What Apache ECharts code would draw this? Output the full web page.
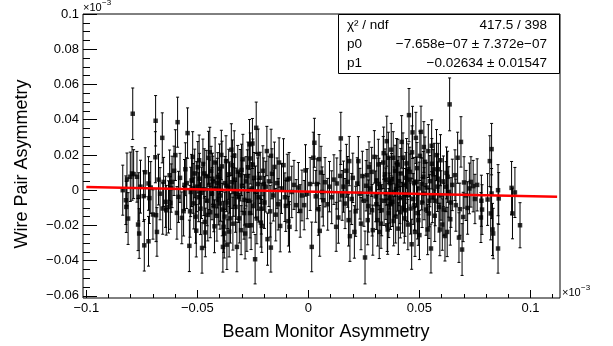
<!DOCTYPE html>
<html>
<head>
<meta charset="utf-8">
<script src="https://cdn.jsdelivr.net/npm/echarts@6.0.0/dist/echarts.min.js"></script>
<style>
  html, body { margin: 0; padding: 0; background: #fff; }
  #chart { width: 613px; height: 346px; }
</style>
</head>
<body>
<div id="chart"></div>
<script>
// beam monitor asymmetry (x10^-3)
const beamX = [
  -0.0836, -0.0820, -0.0817, -0.0822, -0.0812, -0.0802, -0.0794, -0.0791, -0.0787, -0.0772,
  -0.0767, -0.0762, -0.0764, -0.0756, -0.0742, -0.0739, -0.0735, -0.0720, -0.0720, -0.0716,
  -0.0710, -0.0700, -0.0689, -0.0688, -0.0686, -0.0682, -0.0675, -0.0668, -0.0658, -0.0656,
  -0.0652, -0.0643, -0.0640, -0.0630, -0.0625, -0.0622, -0.0618, -0.0614, -0.0605, -0.0599,
  -0.0592, -0.0589, -0.0585, -0.0578, -0.0570, -0.0562, -0.0558, -0.0554, -0.0544, -0.0536,
  -0.0530, -0.0526, -0.0521, -0.0516, -0.0512, -0.0508, -0.0503, -0.0498, -0.0494, -0.0490,
  -0.0486, -0.0479, -0.0475, -0.0471, -0.0467, -0.0464, -0.0460, -0.0456, -0.0450, -0.0446,
  -0.0442, -0.0438, -0.0434, -0.0430, -0.0426, -0.0420, -0.0416, -0.0412, -0.0408, -0.0404,
  -0.0400, -0.0396, -0.0392, -0.0388, -0.0385, -0.0382, -0.0379, -0.0375, -0.0371, -0.0367,
  -0.0363, -0.0359, -0.0355, -0.0351, -0.0347, -0.0342, -0.0340, -0.0336, -0.0332, -0.0328,
  -0.0322, -0.0318, -0.0314, -0.0307, -0.0303, -0.0299, -0.0295, -0.0290, -0.0285, -0.0281,
  -0.0277, -0.0272, -0.0268, -0.0265, -0.0262, -0.0258, -0.0255, -0.0252, -0.0248, -0.0244,
  -0.0240, -0.0235, -0.0232, -0.0228, -0.0224, -0.0217, -0.0214, -0.0210, -0.0205, -0.0198,
  -0.0192, -0.0187, -0.0184, -0.0178, -0.0172, -0.0169, -0.0168, -0.0164, -0.0158, -0.0153,
  -0.0147, -0.0141, -0.0136, -0.0132, -0.0127, -0.0121, -0.0112, -0.0106, -0.0102, -0.0095,
  -0.0090, -0.0087, -0.0085, -0.0075, -0.0065, -0.0055, -0.0045, -0.0037, -0.0029, -0.0019,
  -0.0013, -0.0005, 0.0008, 0.0015, 0.0022, 0.0027, 0.0033, 0.0038, 0.0045, 0.0048,
  0.0051, 0.0057, 0.0062, 0.0067, 0.0075, 0.0087, 0.0095, 0.0105, 0.0115, 0.0128,
  0.0125, 0.0135, 0.0143, 0.0146, 0.0152, 0.0158, 0.0165, 0.0171, 0.0177, 0.0184,
  0.0181, 0.0187, 0.0195, 0.0200, 0.0207, 0.0213, 0.0220, 0.0225, 0.0232, 0.0237,
  0.0243, 0.0250, 0.0255, 0.0260, 0.0264, 0.0267, 0.0270, 0.0273, 0.0278, 0.0285,
  0.0287, 0.0290, 0.0297, 0.0303, 0.0308, 0.0312, 0.0315, 0.0319, 0.0324, 0.0330,
  0.0337, 0.0341, 0.0345, 0.0349, 0.0353, 0.0355, 0.0357, 0.0360, 0.0362, 0.0366,
  0.0370, 0.0375, 0.0378, 0.0382, 0.0386, 0.0390, 0.0393, 0.0397, 0.0401, 0.0405,
  0.0408, 0.0412, 0.0416, 0.0420, 0.0424, 0.0428, 0.0432, 0.0435, 0.0439, 0.0442,
  0.0446, 0.0450, 0.0453, 0.0457, 0.0460, 0.0465, 0.0469, 0.0472, 0.0476, 0.0480,
  0.0484, 0.0487, 0.0491, 0.0495, 0.0498, 0.0502, 0.0507, 0.0512, 0.0517, 0.0521,
  0.0525, 0.0530, 0.0537, 0.0540, 0.0543, 0.0547, 0.0552, 0.0555, 0.0558, 0.0562,
  0.0567, 0.0571, 0.0577, 0.0581, 0.0585, 0.0588, 0.0592, 0.0597, 0.0603, 0.0608,
  0.0615, 0.0622, 0.0625, 0.0627, 0.0632, 0.0636, 0.0642, 0.0648, 0.0660, 0.0664,
  0.0672, 0.0678, 0.0682, 0.0687, 0.0692, 0.0697, 0.0701, 0.0710, 0.0717, 0.0725,
  0.0732, 0.0742, 0.0750, 0.0760, 0.0777, 0.0779, 0.0782, 0.0807, 0.0817, 0.0821,
  0.0825, 0.0825, 0.0829, 0.0832, 0.0854, 0.0854, 0.0857, 0.0915, 0.0919, 0.0930,
  0.0953,
  -0.0548, -0.0533, -0.0519, -0.0505, -0.0492, -0.0481, -0.0469, -0.0453, -0.0444, -0.0432,
  -0.0423, -0.0410, -0.0398, -0.0389, -0.0377, -0.0369, -0.0357, -0.0344, -0.0334, -0.0325,
  -0.0311, -0.0301, -0.0288, -0.0275, -0.0263, -0.0250, -0.0238, -0.0226, -0.0212, -0.0201,
  0.0306, 0.0318, 0.0327, 0.0339, 0.0351, 0.0364, 0.0373, 0.0384, 0.0395, 0.0403,
  0.0414, 0.0426, 0.0437, 0.0448, 0.0458, 0.0467, 0.0478, 0.0489, 0.0500, 0.0510,
  0.0520, 0.0533, 0.0545, 0.0556, 0.0569, 0.0583, 0.0595, 0.0610, 0.0620, 0.0639
];

// wire pair asymmetry (x10^-3)
const wireY = [
  0.0000, -0.0095, 0.0061, -0.0057, -0.0161, 0.0076, 0.0095, 0.0434, 0.0091, 0.0076,
  -0.0195, -0.0246, -0.0038, 0.0020, -0.0034, -0.0313, 0.0102, 0.0038, -0.0290, -0.0045,
  0.0015, -0.0138, 0.0187, 0.0394, -0.0142, -0.0237, 0.0060, -0.0020, 0.0297, -0.0104,
  0.0047, -0.0066, -0.0114, -0.0095, 0.0085, -0.0072, 0.0012, 0.0047, 0.0110, 0.0199,
  -0.0129, 0.0386, -0.0038, 0.0070, -0.0157, -0.0119, 0.0030, 0.0119, 0.0324, -0.0316,
  -0.0010, 0.0055, 0.0189, -0.0075, 0.0095, -0.0150, 0.0020, 0.0130, -0.0040, 0.0065,
  -0.0105, -0.0328, 0.0149, 0.0005, -0.0180, -0.0240, 0.0080, -0.0060, 0.0184, 0.0030,
  -0.0125, 0.0110, -0.0020, 0.0050, -0.0090, 0.0157, 0.0010, -0.0145, 0.0075, -0.0050,
  0.0120, -0.0030, 0.0200, -0.0110, -0.0322, -0.0208, -0.0246, 0.0040, 0.0165, -0.0309,
  -0.0070, 0.0090, 0.0015, -0.0160, 0.0230, 0.0142, -0.0190, -0.0010, 0.0060, -0.0095,
  -0.0322, 0.0105, -0.0040, 0.0085, -0.0227, 0.0025, 0.0175, -0.0130, -0.0246, 0.0050,
  -0.0200, 0.0130, -0.0060, 0.0260, 0.0180, -0.0199, 0.0010, 0.0265, -0.0090, 0.0070,
  -0.0392, 0.0354, -0.0161, 0.0035, -0.0040, 0.0070, -0.0184, -0.0203, 0.0110, -0.0070,
  0.0020, 0.0222, -0.0278, 0.0050, -0.0120, -0.0326, 0.0195, 0.0093, -0.0030, 0.0132,
  -0.0139, 0.0040, -0.0080, 0.0157, -0.0203, 0.0010, 0.0142, -0.0040, -0.0089, 0.0060,
  -0.0176, 0.0066, -0.0208, -0.0010, 0.0030, -0.0085, 0.0015, -0.0118, -0.0030, -0.0085,
  0.0112, -0.0020, 0.0035, -0.0322, 0.0184, 0.0269, -0.0035, 0.0035, -0.0108, 0.0176,
  -0.0231, 0.0100, -0.0010, -0.0057, 0.0045, -0.0080, 0.0020, -0.0040, 0.0060, 0.0038,
  -0.0208, -0.0155, 0.0081, 0.0294, -0.0030, 0.0020, -0.0076, 0.0110, 0.0047, 0.0165,
  -0.0170, -0.0261, -0.0050, 0.0070, -0.0237, -0.0120, 0.0038, 0.0165, -0.0020, -0.0190,
  0.0080, -0.0060, -0.0382, 0.0025, 0.0085, -0.0170, -0.0090, 0.0132, 0.0010, 0.0104,
  -0.0114, -0.0227, 0.0189, -0.0035, 0.0055, -0.0170, 0.0146, -0.0237, 0.0015, -0.0114,
  0.0157, -0.0060, 0.0090, -0.0020, 0.0278, -0.0199, -0.0223, 0.0184, -0.0130, 0.0040,
  -0.0080, 0.0062, -0.0066, 0.0184, -0.0010, 0.0110, -0.0150, 0.0152, 0.0025, -0.0218,
  0.0051, -0.0045, 0.0095, 0.0274, -0.0100, 0.0030, -0.0160, -0.0114, 0.0070, 0.0152,
  -0.0030, 0.0120, 0.0426, 0.0104, -0.0104, -0.0307, 0.0328, -0.0050, 0.0040, -0.0237,
  0.0297, 0.0047, -0.0130, -0.0170, 0.0010, 0.0195, 0.0331, -0.0070, 0.0076, -0.0020,
  0.0161, -0.0110, -0.0223, 0.0222, -0.0132, 0.0051, -0.0331, 0.0252, -0.0040, 0.0090,
  0.0118, -0.0060, 0.0199, 0.0020, 0.0119, -0.0095, -0.0223, -0.0030, -0.0195, 0.0050,
  -0.0260, 0.0098, -0.0237, 0.0076, -0.0010, 0.0487, -0.0070, 0.0030, 0.0085, -0.0085,
  0.0184, -0.0269, -0.0108, 0.0274, -0.0337, -0.0152, 0.0044, -0.0030, -0.0101, 0.0010,
  0.0047, 0.0023, -0.0050, 0.0030, -0.0155, -0.0060, -0.0110, -0.0053, 0.0165, -0.0132,
  0.0233, -0.0019, -0.0223, -0.0246, 0.0000, -0.0331, -0.0047, 0.0013, -0.0132, -0.0013,
  -0.0199,
  0.0040, -0.0120, 0.0010, -0.0230, 0.0170, -0.0015, 0.0095, -0.0140, 0.0215, 0.0065,
  -0.0205, 0.0040, -0.0075, 0.0135, -0.0150, 0.0025, -0.0235, 0.0045, 0.0195, -0.0020,
  -0.0160, 0.0115, -0.0055, 0.0080, -0.0130, 0.0145, -0.0010, 0.0205, -0.0105, 0.0035,
  -0.0080, 0.0035, -0.0190, 0.0210, 0.0060, -0.0045, 0.0230, -0.0175, 0.0005, 0.0145,
  -0.0125, 0.0185, -0.0025, -0.0195, 0.0060, 0.0215, -0.0085, 0.0125, -0.0255, 0.0035,
  0.0245, 0.0015, -0.0060, 0.0150, -0.0145, 0.0065, 0.0170, -0.0110, 0.0020, -0.0165
];

// y error per point
const wireErr = [
  0.0142, 0.0145, 0.0150, 0.0138, 0.0147, 0.0140, 0.0152, 0.0146, 0.0139, 0.0144,
  0.0148, 0.0141, 0.0137, 0.0150, 0.0143, 0.0146, 0.0139, 0.0152, 0.0141, 0.0144,
  0.0147, 0.0140, 0.0145, 0.0143, 0.0150, 0.0138, 0.0144, 0.0148, 0.0142, 0.0146,
  0.0139, 0.0145, 0.0141, 0.0148, 0.0143, 0.0150, 0.0137, 0.0146, 0.0140, 0.0144,
  0.0149, 0.0142, 0.0145, 0.0139, 0.0147, 0.0141, 0.0144, 0.0150, 0.0143, 0.0146,
  0.0140, 0.0148, 0.0143, 0.0145, 0.0138, 0.0151, 0.0142, 0.0146, 0.0139, 0.0144,
  0.0147, 0.0143, 0.0141, 0.0149, 0.0144, 0.0138, 0.0146, 0.0142, 0.0150, 0.0140,
  0.0145, 0.0139, 0.0148, 0.0143, 0.0146, 0.0141, 0.0150, 0.0144, 0.0138, 0.0147,
  0.0142, 0.0146, 0.0140, 0.0149, 0.0143, 0.0145, 0.0139, 0.0151, 0.0144, 0.0141,
  0.0148, 0.0142, 0.0145, 0.0140, 0.0147, 0.0143, 0.0150, 0.0138, 0.0146, 0.0144,
  0.0141, 0.0149, 0.0143, 0.0146, 0.0139, 0.0145, 0.0142, 0.0148, 0.0144, 0.0140,
  0.0147, 0.0143, 0.0150, 0.0141, 0.0145, 0.0138, 0.0146, 0.0142, 0.0149, 0.0144,
  0.0140, 0.0146, 0.0143, 0.0148, 0.0141, 0.0145, 0.0139, 0.0150, 0.0142, 0.0147,
  0.0144, 0.0140, 0.0148, 0.0143, 0.0146, 0.0139, 0.0151, 0.0142, 0.0145, 0.0141,
  0.0149, 0.0143, 0.0146, 0.0140, 0.0147, 0.0142, 0.0150, 0.0138, 0.0145, 0.0144,
  0.0141, 0.0148, 0.0143, 0.0146, 0.0139, 0.0145, 0.0142, 0.0149, 0.0144, 0.0140,
  0.0146, 0.0142, 0.0150, 0.0141, 0.0145, 0.0139, 0.0147, 0.0143, 0.0148, 0.0140,
  0.0144, 0.0149, 0.0142, 0.0146, 0.0140, 0.0147, 0.0143, 0.0150, 0.0141, 0.0145,
  0.0139, 0.0146, 0.0143, 0.0148, 0.0141, 0.0145, 0.0142, 0.0150, 0.0144, 0.0140,
  0.0147, 0.0143, 0.0145, 0.0140, 0.0149, 0.0142, 0.0146, 0.0139, 0.0144, 0.0148,
  0.0141, 0.0145, 0.0150, 0.0143, 0.0146, 0.0140, 0.0148, 0.0142, 0.0145, 0.0139,
  0.0146, 0.0142, 0.0149, 0.0144, 0.0140, 0.0147, 0.0143, 0.0151, 0.0141, 0.0145,
  0.0148, 0.0140, 0.0144, 0.0146, 0.0142, 0.0149, 0.0141, 0.0145, 0.0139, 0.0147,
  0.0143, 0.0146, 0.0140, 0.0148, 0.0142, 0.0145, 0.0150, 0.0141, 0.0144, 0.0147,
  0.0139, 0.0145, 0.0142, 0.0149, 0.0143, 0.0146, 0.0140, 0.0148, 0.0144, 0.0141,
  0.0147, 0.0143, 0.0151, 0.0140, 0.0145, 0.0142, 0.0148, 0.0144, 0.0146, 0.0139,
  0.0145, 0.0141, 0.0147, 0.0143, 0.0149, 0.0140, 0.0146, 0.0142, 0.0144, 0.0148,
  0.0141, 0.0146, 0.0143, 0.0150, 0.0142, 0.0145, 0.0139, 0.0147, 0.0144, 0.0140,
  0.0148, 0.0142, 0.0145, 0.0141, 0.0147, 0.0143, 0.0149, 0.0140, 0.0146, 0.0144,
  0.0142, 0.0147, 0.0140, 0.0145, 0.0143, 0.0150, 0.0141, 0.0146, 0.0144, 0.0148,
  0.0145, 0.0141, 0.0148, 0.0143, 0.0147, 0.0140, 0.0146, 0.0142, 0.0149, 0.0144,
  0.0143, 0.0146, 0.0140, 0.0148, 0.0142, 0.0145, 0.0141, 0.0147, 0.0144, 0.0150,
  0.0146, 0.0142, 0.0148, 0.0143, 0.0145, 0.0140, 0.0147, 0.0150, 0.0144, 0.0142,
  0.0128,
  0.0144, 0.0147, 0.0141, 0.0149, 0.0143, 0.0146, 0.0140, 0.0148, 0.0142, 0.0145,
  0.0150, 0.0141, 0.0146, 0.0143, 0.0139, 0.0147, 0.0144, 0.0148, 0.0142, 0.0145,
  0.0140, 0.0146, 0.0143, 0.0149, 0.0141, 0.0145, 0.0147, 0.0142, 0.0144, 0.0148,
  0.0143, 0.0146, 0.0140, 0.0148, 0.0145, 0.0142, 0.0149, 0.0141, 0.0147, 0.0144,
  0.0146, 0.0140, 0.0148, 0.0143, 0.0145, 0.0150, 0.0142, 0.0146, 0.0139, 0.0147,
  0.0144, 0.0141, 0.0148, 0.0143, 0.0146, 0.0140, 0.0145, 0.0149, 0.0142, 0.0147
];

// linear fit (pol1) end points
const fitX = [-0.1, 0.112];
const fitY = [0.00187, -0.00372];

const xMajorTicks = [-0.1, -0.05, 0, 0.05, 0.1];
const xMinorTicks = [-0.1, -0.09, -0.08, -0.07, -0.06, -0.05, -0.04, -0.03, -0.02, -0.01,
  0, 0.01, 0.02, 0.03, 0.04, 0.05, 0.06, 0.07, 0.08, 0.09, 0.1, 0.11];
const yMajorTicks = [-0.06, -0.04, -0.02, 0, 0.02, 0.04, 0.06, 0.08, 0.1];
const yMinorTicks = [-0.06, -0.055, -0.05, -0.045, -0.04, -0.035, -0.03, -0.025, -0.02, -0.015,
  -0.01, -0.005, 0, 0.005, 0.01, 0.015, 0.02, 0.025, 0.03, 0.035, 0.04, 0.045, 0.05, 0.055,
  0.06, 0.065, 0.07, 0.075, 0.08, 0.085, 0.09, 0.095, 0.1];

const statsRows = [
  ['χ² / ndf', '417.5 / 398'],
  ['p0', '\u22127.658e\u221207 ± 7.372e\u221207'],
  ['p1', '\u22120.02634 ± 0.01547']
];

const FONT = "'Liberation Sans', Arial, Helvetica, sans-serif";
const X_MIN = -0.1015, X_MAX = 0.1133;
const Y_MIN = -0.0612, Y_MAX = 0.1;

function fmt(v) {
  return String(+v.toFixed(3)).replace('-', '\u2212');
}

const chart = echarts.init(document.getElementById('chart'));

const points = beamX.map((x, i) => [x, wireY[i], wireErr[i]]);

function makeAxis(min, max, ticks, len, withLabels, position) {
  return {
    type: 'value', min: min, max: max, position: position,
    axisLine: { show: false, onZero: false },
    splitLine: { show: false },
    axisTick: { show: true, inside: true, length: len, customValues: ticks,
      lineStyle: { color: '#000', width: 1 } },
    axisLabel: withLabels
      ? { show: true, customValues: ticks, formatter: fmt,
          color: '#000', fontFamily: FONT, fontSize: 13, margin: 4 }
      : { show: false }
  };
}

chart.setOption({
  animation: false,
  backgroundColor: '#fff',
  grid: {
    left: 83, right: 53, top: 14, bottom: 48,
    show: true, borderColor: '#000', borderWidth: 1
  },
  xAxis: [
    makeAxis(X_MIN, X_MAX, xMajorTicks, 8, true, 'bottom'),
    makeAxis(X_MIN, X_MAX, xMinorTicks, 4, false, 'bottom')
  ],
  yAxis: [
    makeAxis(Y_MIN, Y_MAX, yMajorTicks, 14, true, 'left'),
    makeAxis(Y_MIN, Y_MAX, yMinorTicks, 7, false, 'left')
  ],
  series: [
    {
      type: 'custom',
      xAxisIndex: 0, yAxisIndex: 0,
      z: 2,
      silent: true,
      data: points,
      encode: { x: 0, y: 1 },
      renderItem: function (params, api) {
        const x = api.value(0), y = api.value(1), e = api.value(2);
        const top = api.coord([x, y + e]);
        const bot = api.coord([x, y - e]);
        const cap = 1.5;
        const st = { stroke: '#000', lineWidth: 1 };
        return {
          type: 'group',
          children: [
            { type: 'line', shape: { x1: top[0], y1: top[1], x2: bot[0], y2: bot[1] }, style: st },
            { type: 'line', shape: { x1: top[0] - cap, y1: top[1], x2: top[0] + cap, y2: top[1] }, style: st },
            { type: 'line', shape: { x1: bot[0] - cap, y1: bot[1], x2: bot[0] + cap, y2: bot[1] }, style: st }
          ]
        };
      }
    },
    {
      type: 'scatter',
      xAxisIndex: 0, yAxisIndex: 0,
      z: 3,
      silent: true,
      symbol: 'rect',
      symbolSize: 4.5,
      itemStyle: { color: '#000' },
      data: points.map(p => [p[0], p[1]])
    },
    {
      type: 'line',
      xAxisIndex: 0, yAxisIndex: 0,
      z: 4,
      silent: true,
      symbol: 'none',
      lineStyle: { color: '#ff0000', width: 2.5 },
      data: fitX.map((x, i) => [x, fitY[i]])
    }
  ],
  graphic: [
    // axis titles
    { type: 'text', x: 326, y: 332, silent: true,
      style: { text: 'Beam Monitor Asymmetry', font: '18px ' + FONT, fill: '#000',
        align: 'center', verticalAlign: 'middle', textAlign: 'center', textVerticalAlign: 'middle' } },
    { type: 'text', x: 22, y: 164, rotation: Math.PI / 2, silent: true,
      style: { text: 'Wire Pair Asymmetry', font: '18px ' + FONT, fill: '#000',
        align: 'center', verticalAlign: 'middle', textAlign: 'center', textVerticalAlign: 'middle' } },
    // exponent labels
    { type: 'text', x: 83, y: 8, silent: true,
      style: { text: '×10', font: '11px ' + FONT, fill: '#000', align: 'left', verticalAlign: 'middle', textAlign: 'left', textVerticalAlign: 'middle' } },
    { type: 'text', x: 102, y: 3, silent: true,
      style: { text: '\u22123', font: '8px ' + FONT, fill: '#000', align: 'left', verticalAlign: 'middle', textAlign: 'left', textVerticalAlign: 'middle' } },
    { type: 'text', x: 562, y: 293, silent: true,
      style: { text: '×10', font: '11px ' + FONT, fill: '#000', align: 'left', verticalAlign: 'middle', textAlign: 'left', textVerticalAlign: 'middle' } },
    { type: 'text', x: 581, y: 288, silent: true,
      style: { text: '\u22123', font: '8px ' + FONT, fill: '#000', align: 'left', verticalAlign: 'middle', textAlign: 'left', textVerticalAlign: 'middle' } },
    // fit statistics box
    { type: 'rect', silent: true, z: 10,
      shape: { x: 338.5, y: 14.5, width: 221, height: 59 },
      style: { fill: '#fff', stroke: '#000', lineWidth: 1 } }
  ].concat(statsRows.flatMap((row, i) => [
    { type: 'text', x: 347, y: 25 + i * 19.3, silent: true, z: 11,
      style: { text: row[0], font: '13.5px ' + FONT, fill: '#000', align: 'left', verticalAlign: 'middle', textAlign: 'left', textVerticalAlign: 'middle' } },
    { type: 'text', x: 547, y: 25 + i * 19.3, silent: true, z: 11,
      style: { text: row[1], font: '13.5px ' + FONT, fill: '#000', align: 'right', verticalAlign: 'middle', textAlign: 'right', textVerticalAlign: 'middle' } }
  ]))
});
</script>
</body>
</html>
